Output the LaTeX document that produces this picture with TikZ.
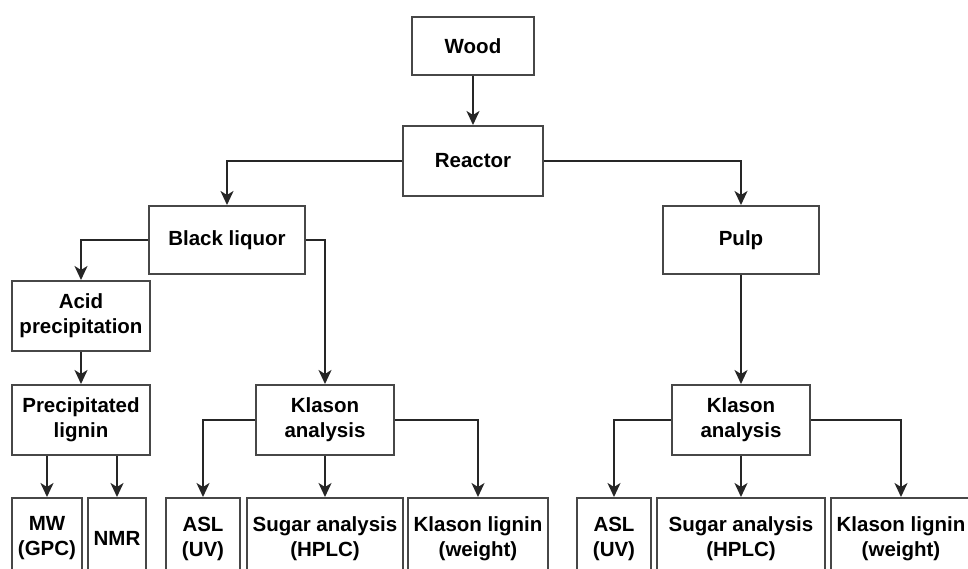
\documentclass[tikz,border=0pt]{standalone}
\usepackage{fontspec}
\setmainfont{Liberation Sans}
\usetikzlibrary{arrows.meta}
\begin{document}
\begin{tikzpicture}[x=1pt,y=-1pt,
  box/.style={draw=black!72, line width=2pt, fill=white, inner sep=0pt, align=center,
    font=\fontsize{20.5}{25}\selectfont\bfseries},
  bbox/.style={box, anchor=north, minimum height=81},
  conn/.style={draw=black!85, line width=1.8pt, -{Stealth[length=14pt,width=13pt,inset=4pt]}}
]
\useasboundingbox (0,0) rectangle (968,569);
\clip (0,0) rectangle (968,569);
\fill[white] (0,0) rectangle (968,569);
% main nodes
\node[box, minimum width=122, minimum height=58] (wood) at (473,46) {Wood};
\node[box, minimum width=140, minimum height=70] (reactor) at (473,161) {Reactor};
\node[box, minimum width=156, minimum height=68] (bl) at (227,240) {Black liquor};
\node[box, minimum width=156, minimum height=68] (pulp) at (741,240) {Pulp};
\node[box, minimum width=138, minimum height=70] (acid) at (81,316) {Acid\\precipitation};
\node[box, minimum width=138, minimum height=70] (prec) at (81,420) {Precipitated\\lignin};
\node[box, minimum width=138, minimum height=70] (kl1) at (325,420) {Klason\\analysis};
\node[box, minimum width=138, minimum height=70] (kl2) at (741,420) {Klason\\analysis};
% bottom nodes
\node[bbox, minimum width=70] (mw) at (47,497) {MW\\(GPC)};
\node[bbox, minimum width=58] (nmr) at (117,497) {NMR};
\node[bbox, minimum width=74] (asl1) at (203,497) {ASL\\(UV)};
\node[bbox, minimum width=156] (sug1) at (325,497) {Sugar analysis\\(HPLC)};
\node[bbox, minimum width=140] (kll1) at (478,497) {Klason lignin\\(weight)};
\node[bbox, minimum width=74] (asl2) at (614,497) {ASL\\(UV)};
\node[bbox, minimum width=168] (sug2) at (741,497) {Sugar analysis\\(HPLC)};
\node[bbox, minimum width=140] (kll2) at (901,497) {Klason lignin\\(weight)};
% connectors
\draw[conn] (wood.south) -- (reactor.north);
\draw[conn] (reactor.west) -| (bl.north);
\draw[conn] (reactor.east) -| (pulp.north);
\draw[conn] (bl.west) -| (acid.north);
\draw[conn] (bl.east) -| (kl1.north);
\draw[conn] (acid.south) -- (prec.north);
\draw[conn] (prec.south -| mw.north) -- (mw.north);
\draw[conn] (prec.south -| nmr.north) -- (nmr.north);
\draw[conn] (kl1.west) -| (asl1.north);
\draw[conn] (kl1.south) -- (sug1.north);
\draw[conn] (kl1.east) -| (kll1.north);
\draw[conn] (pulp.south) -- (kl2.north);
\draw[conn] (kl2.west) -| (asl2.north);
\draw[conn] (kl2.south) -- (sug2.north);
\draw[conn] (kl2.east) -| (kll2.north);
\end{tikzpicture}
\end{document}
